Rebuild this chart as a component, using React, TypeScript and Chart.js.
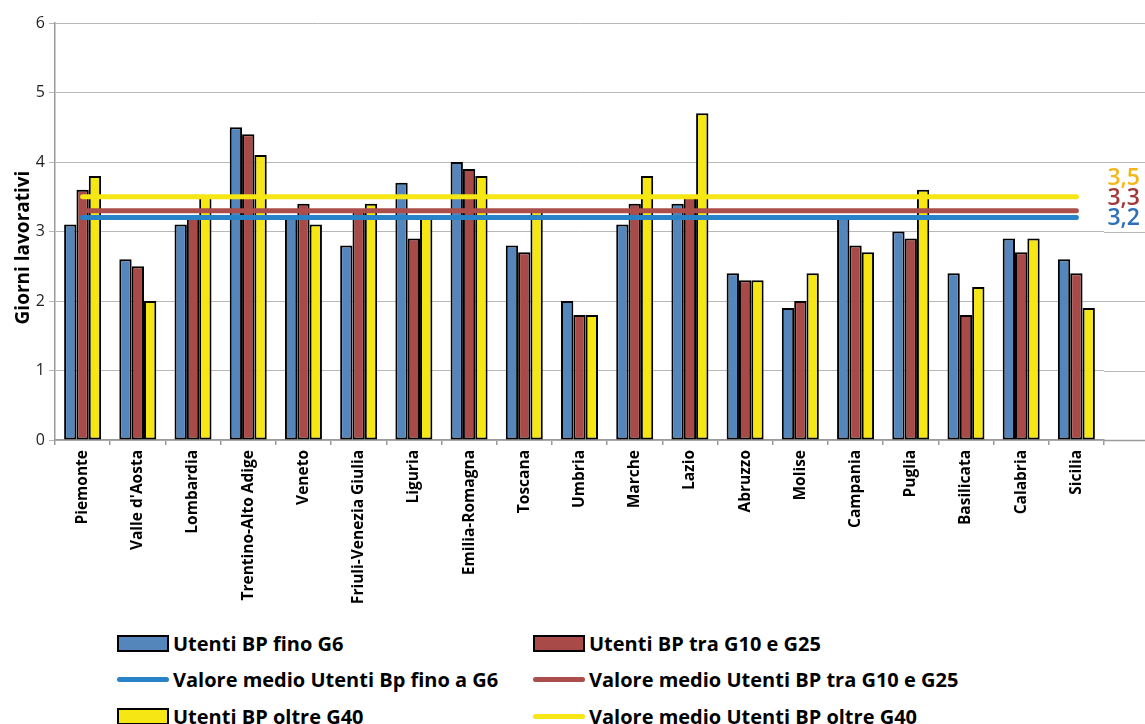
import React, { useEffect, useRef } from "react";
import { Chart, registerables } from "chart.js";

Chart.register(...registerables);

const regions = [
  "Piemonte", "Valle d'Aosta", "Lombardia", "Trentino-Alto Adige", "Veneto",
  "Friuli-Venezia Giulia", "Liguria", "Emilia-Romagna", "Toscana", "Umbria",
  "Marche", "Lazio", "Abruzzo", "Molise", "Campania", "Puglia", "Basilicata",
  "Calabria", "Sicilia",
];

const finoG6 = [3.1, 2.6, 3.1, 4.5, 3.2, 2.8, 3.7, 4.0, 2.8, 2.0, 3.1, 3.4, 2.4, 1.9, 3.2, 3.0, 2.4, 2.9, 2.6];
const traG10G25 = [3.6, 2.5, 3.2, 4.4, 3.4, 3.3, 2.9, 3.9, 2.7, 1.8, 3.4, 3.5, 2.3, 2.0, 2.8, 2.9, 1.8, 2.7, 2.4];
const oltreG40 = [3.8, 2.0, 3.5, 4.1, 3.1, 3.4, 3.2, 3.8, 3.3, 1.8, 3.8, 4.7, 2.3, 2.4, 2.7, 3.6, 2.2, 2.9, 1.9];

const mediaFinoG6 = 3.2;
const mediaTraG10G25 = 3.3;
const mediaOltreG40 = 3.5;

const yTicks = [0, 1, 2, 3, 4, 5, 6];
const yTitle = "Giorni lavorativi";

const BLUE = "#5586bb";
const RED = "#a84b48";
const YELLOW = "#f5e614";
const BLUE_LINE = "#2882c8";
const RED_LINE = "#ab4d4a";
const YELLOW_LINE = "#f5e614";

const FONT = "'Open Sans', 'Noto Sans', sans-serif";

const extraPlugin = {
  id: "extras",
  beforeDatasetsDraw(chart: any) {
    const { ctx, chartArea, scales } = chart;
    const y = scales.y;
    ctx.save();
    y.ticks.forEach((t: any) => {
      const py = Math.round(y.getPixelForValue(t.value)) + 0.5;
      ctx.strokeStyle = t.value === 0 ? "#9a9a9a" : "#b8b8b8";
      ctx.lineWidth = t.value === 0 ? 1.5 : 1;
      ctx.beginPath();
      ctx.moveTo(chartArea.right, py);
      ctx.lineTo(chart.width, py);
      ctx.stroke();
    });
    ctx.restore();
  },
  afterDraw(chart: any) {
    const { ctx, scales, chartArea } = chart;
    const y = scales.y;
    const base = y.getPixelForValue(mediaFinoG6);
    const items = [
      { text: String(mediaOltreG40).replace(".", ","), color: "#f4b619", dy: -40 },
      { text: String(mediaTraG10G25).replace(".", ","), color: "#a03a3a", dy: -20 },
      { text: String(mediaFinoG6).replace(".", ","), color: "#2f6fb8", dy: 0 },
    ];
    ctx.save();
    ctx.font = `600 23px ${FONT}`;
    ctx.textAlign = "right";
    ctx.textBaseline = "middle";
    items.forEach((it) => {
      ctx.fillStyle = it.color;
      ctx.fillText(it.text, 1140, base + it.dy + 1);
    });
    ctx.restore();

    // y-axis title, slightly below the plot centre as in the reference
    ctx.save();
    ctx.translate(24, (chartArea.top + chartArea.bottom) / 2 + 16);
    ctx.rotate(-Math.PI / 2);
    ctx.font = `bold 19px ${FONT}`;
    ctx.fillStyle = "#000";
    ctx.textAlign = "center";
    ctx.textBaseline = "middle";
    ctx.fillText(yTitle, 0, 0);
    ctx.restore();
  },
};

function LegendItem({ kind, color, label }: { kind: "box" | "line"; color: string; label: string }) {
  return (
    <div style={{ display: "flex", alignItems: "center", height: 36.5 }}>
      {kind === "box" ? (
        <div style={{ width: 48, height: 13, background: color, border: "2px solid #000", boxSizing: "content-box", marginRight: 4 }} />
      ) : (
        <div style={{ width: 52, height: 5, background: color, borderRadius: 3, marginRight: 4 }} />
      )}
      <span style={{ fontFamily: FONT, fontWeight: 700, fontSize: 20, color: "#000", whiteSpace: "nowrap" }}>{label}</span>
    </div>
  );
}

export default function App() {
  const ref = useRef<HTMLCanvasElement>(null);
  useEffect(() => {
    if (!ref.current) return;
    const barStyle = { borderColor: "#000", borderWidth: 2, borderSkipped: false as const, order: 1 };
    const lineStyle = { type: "line" as const, borderWidth: 5, pointRadius: 0, borderCapStyle: "round" as const, order: 0 };
    const chart = new Chart(ref.current, {
      type: "bar",
      data: {
        labels: regions,
        datasets: [
          { ...lineStyle, label: "Valore medio Utenti Bp fino a G6", data: regions.map(() => mediaFinoG6), borderColor: BLUE_LINE } as any,
          { ...lineStyle, label: "Valore medio Utenti BP tra G10 e G25", data: regions.map(() => mediaTraG10G25), borderColor: RED_LINE } as any,
          { ...lineStyle, label: "Valore medio Utenti BP oltre G40", data: regions.map(() => mediaOltreG40), borderColor: YELLOW_LINE } as any,
          { ...barStyle, label: "Utenti BP fino G6", data: finoG6, backgroundColor: BLUE },
          { ...barStyle, label: "Utenti BP tra G10 e G25", data: traG10G25, backgroundColor: RED },
          { ...barStyle, label: "Utenti BP oltre G40", data: oltreG40, backgroundColor: YELLOW },
        ],
      },
      options: {
        responsive: false,
        animation: false,
        layout: { padding: { top: 23, right: 41, left: 0, bottom: 0 } },
        datasets: { bar: { barPercentage: 1, categoryPercentage: 0.67 } },
        plugins: { legend: { display: false }, tooltip: { enabled: false } },
        scales: {
          x: {
            grid: { drawOnChartArea: false, drawTicks: true, tickLength: 5, color: "#9a9a9a", lineWidth: 1.5 },
            border: { color: "#9a9a9a", width: 1.5 },
            ticks: { autoSkip: false, minRotation: 90, maxRotation: 90, padding: 5, color: "#000", font: { family: FONT, size: 15.5, weight: "bold" } },
            afterFit: (s: any) => { s.height = 180; },
          },
          y: {
            min: 0,
            max: 6,
            afterBuildTicks: (s: any) => { s.ticks = yTicks.map((v) => ({ value: v })); },
            grid: { color: "#b8b8b8", lineWidth: 1, tickLength: 6 },
            border: { color: "#9a9a9a", width: 1.5 },
            ticks: { padding: 4, color: "#231f20", font: { family: FONT, size: 16 } },
            title: { display: false, text: yTitle },
            afterFit: (s: any) => { s.width = 55; },
          },
        },
      },
      plugins: [extraPlugin],
    });
    return () => chart.destroy();
  }, []);

  return (
    <div style={{ position: "fixed", left: 0, top: 0, width: 1145, height: 724, background: "#fff", overflow: "hidden" }}>
      <canvas ref={ref} width={1145} height={620} style={{ position: "absolute", left: 0, top: 0, width: 1145, height: 620 }} />
      <div style={{ position: "absolute", left: 117, top: 625 }}>
        <LegendItem kind="box" color={BLUE} label="Utenti BP fino G6" />
        <LegendItem kind="line" color={BLUE_LINE} label="Valore medio Utenti Bp fino a G6" />
        <LegendItem kind="box" color={YELLOW} label="Utenti BP oltre G40" />
      </div>
      <div style={{ position: "absolute", left: 533, top: 625 }}>
        <LegendItem kind="box" color={RED} label="Utenti BP tra G10 e G25" />
        <LegendItem kind="line" color={RED_LINE} label="Valore medio Utenti BP tra G10 e G25" />
        <LegendItem kind="line" color={YELLOW_LINE} label="Valore medio Utenti BP oltre G40" />
      </div>
    </div>
  );
}
